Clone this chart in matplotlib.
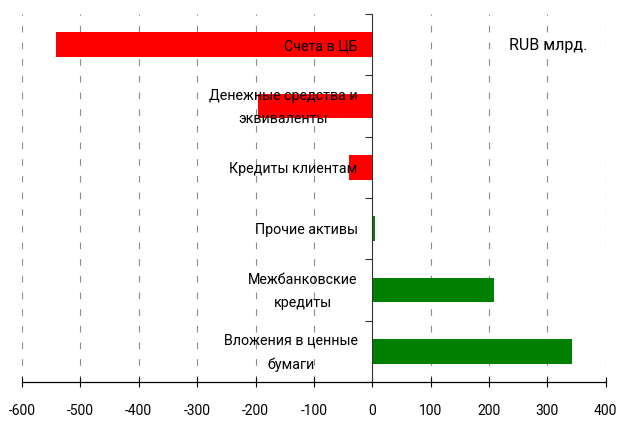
import matplotlib.pyplot as plt
import matplotlib.transforms as mtransforms
import numpy as np

categories = [
    "Счета в ЦБ",
    "Денежные средства и\nэквиваленты",
    "Кредиты клиентам",
    "Прочие активы",
    "Межбанковские\nкредиты",
    "Вложения в ценные\nбумаги",
]
values = [-542, -195, -39, 5, 208, 343]
x_ticks = [-600, -500, -400, -300, -200, -100, 0, 100, 200, 300, 400]

plt.rcParams["font.family"] = ["Roboto", "DejaVu Sans"]

fig = plt.figure(figsize=(6.2, 4.21), dpi=100)
ax = fig.add_axes([0.0355, 0.0926, 0.9415, 0.874])

pos = np.arange(len(categories))
colors = ["#ff0000" if v < 0 else "#008000" for v in values]
ax.barh(pos, values, height=0.4, color=colors, zorder=1)

# dashed vertical grid, kept under the bars
for x in x_ticks:
    if x != 0:
        ax.axvline(x, color="#8c8c8c", lw=0.8, ls=(0, (6, 9)), zorder=0)

ax.set_xlim(-600, 400)
ax.set_ylim(len(categories) - 0.5, -0.5)
ax.set_xticks(x_ticks)
ax.set_xticklabels([str(x) for x in x_ticks], fontsize=10)
ax.tick_params(axis="x", direction="inout", length=7, width=0.8, pad=12)

# tick marks sit on the category boundaries
ax.set_yticks(np.arange(-0.5, len(categories)))
ax.set_yticklabels([])
ax.tick_params(axis="y", direction="out", length=5, width=0.8, color="#333333")

# category names left of the zero axis, drawn over the bars
label_tr = mtransforms.offset_copy(ax.transData, fig=fig, x=-10.5, y=-1, units="points")
for p, name in zip(pos, categories):
    ax.text(0, p, name, transform=label_tr, ha="right", va="center",
            multialignment="center", linespacing=1.85, fontsize=10.3, zorder=3)

ax.spines["left"].set_position(("data", 0))
ax.spines["left"].set_color("#333333")
ax.spines["top"].set_visible(False)
ax.spines["right"].set_visible(False)
ax.spines["bottom"].set_linewidth(0.9)

ax.text(0.902, 0.915, "RUB млрд.", transform=ax.transAxes, ha="center", va="center", fontsize=11.5)

fig.savefig("out.png", dpi=100)
